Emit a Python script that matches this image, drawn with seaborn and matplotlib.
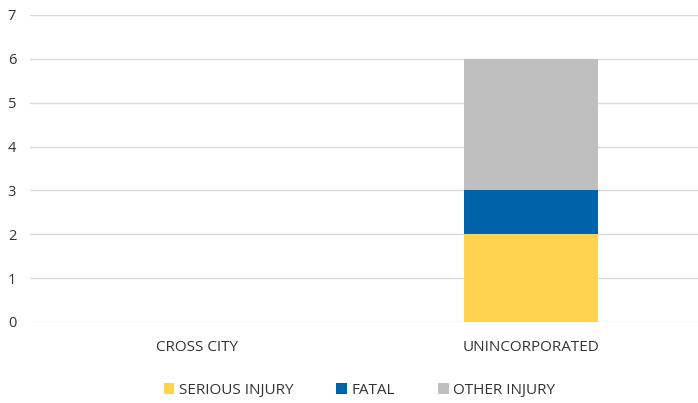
import matplotlib
matplotlib.use("Agg")
import matplotlib.pyplot as plt
import seaborn as sns
import numpy as np
import pandas as pd
from matplotlib.patches import Patch

categories = ["CROSS CITY", "UNINCORPORATED"]
serious_injury = [0, 2]
fatal = [0, 1]
other_injury = [0, 3]
series_names = ["SERIOUS INJURY", "FATAL", "OTHER INJURY"]
colors = ["#FFD24F", "#0063AA", "#BFBFBF"]
y_ticks = [0, 1, 2, 3, 4, 5, 6, 7]

sns.set_theme(style="white")
plt.rcParams["font.family"] = ["Open Sans", "DejaVu Sans"]

fig = plt.figure(figsize=(6.98, 4.03), dpi=100)
ax = fig.add_axes([0.043, 0.201, 0.957, 0.762])

series = [serious_injury, fatal, other_injury]
bottom = np.zeros(len(categories))
for name, vals, c in zip(series_names, series, colors):
    df = pd.DataFrame({"cat": categories, "val": vals})
    sns.barplot(data=df, x="cat", y="val", color=c, bottom=bottom, width=0.40,
                ax=ax, saturation=1, linewidth=0, errorbar=None, zorder=3)
    bottom = bottom + np.array(vals)

ax.set_ylim(0, 7)
ax.set_xlim(-0.5, 1.5)
ax.set_yticks(y_ticks)
ax.yaxis.grid(True, color="#D9D9D9", linewidth=1, zorder=0)
ax.set_axisbelow(True)
for s in ax.spines.values():
    s.set_visible(False)
ax.set_xlabel("")
ax.set_ylabel("")
ax.tick_params(axis="y", labelsize=10.5, length=0, pad=10)
ax.tick_params(axis="x", labelsize=11, length=0, pad=13)
for t in ax.get_xticklabels() + ax.get_yticklabels():
    t.set_color("#333333")

handles = [Patch(facecolor=c, edgecolor="none", label=n) for n, c in zip(series_names, colors)]
fig.legend(handles=handles, loc="center", bbox_to_anchor=(0.515, 0.032), ncol=3,
           frameon=False, fontsize=11, handlelength=0.7, handleheight=0.7,
           handletextpad=0.3, columnspacing=2.8, labelcolor="#333333")

fig.savefig("out.png", dpi=100)
